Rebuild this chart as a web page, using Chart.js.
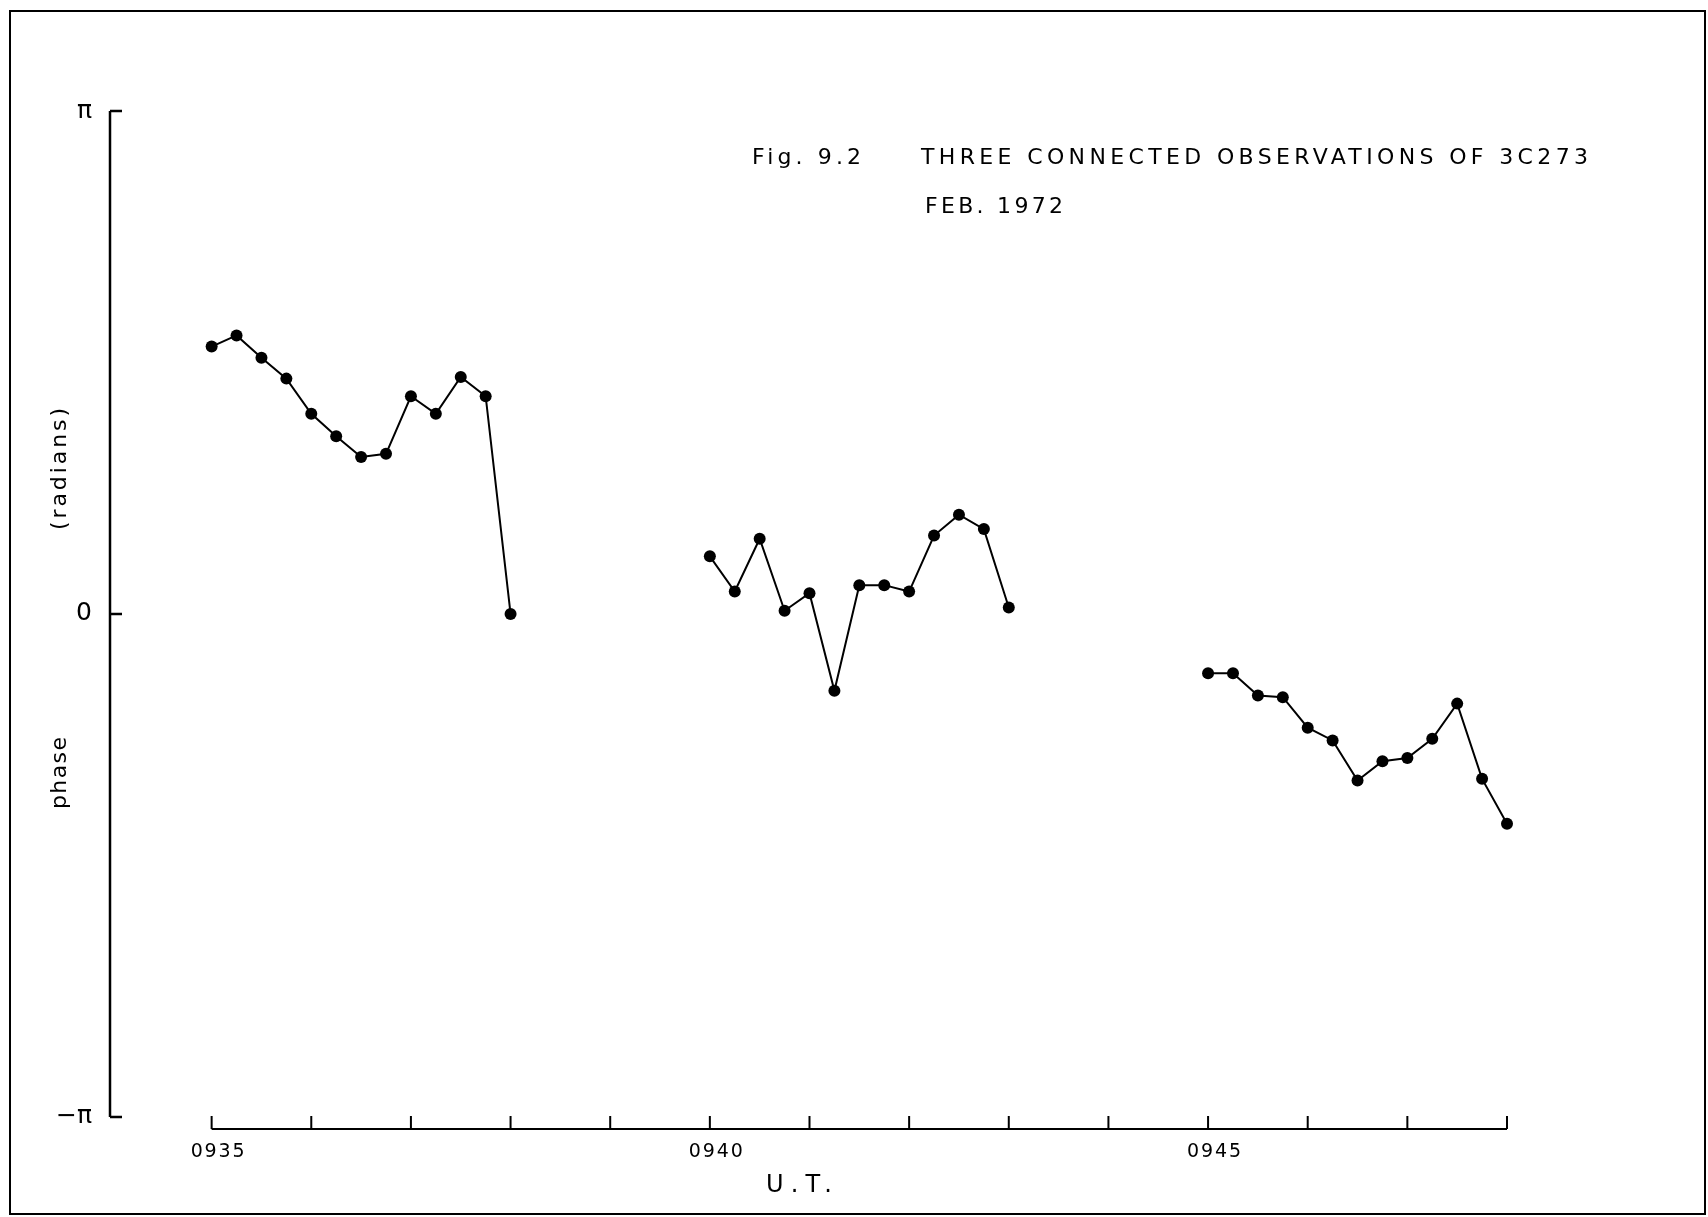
<!DOCTYPE html>
<html>
<head>
<meta charset="utf-8">
<title>Three connected observations of 3C273</title>
<script src="https://cdn.jsdelivr.net/npm/chart.js"></script>
<style>
  html, body { margin: 0; padding: 0; background: #fff; }
  #wrap { width: 1708px; height: 1217px; }
</style>
</head>
<body>
<div id="wrap"><canvas id="phaseChart" width="1708" height="1217"></canvas></div>
<script>
// U.T. given as minutes after 09:00, phase in radians
const obs1Time = [35, 35.25, 35.5, 35.75, 36, 36.25, 36.5, 36.75, 37, 37.25, 37.5, 37.75, 38];
const obs1Phase = [1.67, 1.74, 1.60, 1.47, 1.25, 1.11, 0.98, 1.00, 1.36, 1.25, 1.48, 1.36, 0.00];

const obs2Time = [40, 40.25, 40.5, 40.75, 41, 41.25, 41.5, 41.75, 42, 42.25, 42.5, 42.75, 43];
const obs2Phase = [0.36, 0.14, 0.47, 0.02, 0.13, -0.48, 0.18, 0.18, 0.14, 0.49, 0.62, 0.53, 0.04];

const obs3Time = [45, 45.25, 45.5, 45.75, 46, 46.25, 46.5, 46.75, 47, 47.25, 47.5, 47.75, 48];
const obs3Phase = [-0.37, -0.37, -0.51, -0.52, -0.71, -0.79, -1.04, -0.92, -0.90, -0.78, -0.56, -1.03, -1.31];

const xTicks = [35, 36, 37, 38, 39, 40, 41, 42, 43, 44, 45, 46, 47, 48];
const xLabelled = [35, 40, 45];
const xLabels = ['0935', '0940', '0945'];
const yTicks = [Math.PI, 0, -Math.PI];
const yLabels = ['π', '0', '−π'];

function toPoints(times, phases) {
    return times.map((t, i) => ({ x: t, y: phases[i] }));
}

// draw text spread out to a given width (hand lettering is wide)
function spreadText(ctx, text, x, y, width) {
    ctx.letterSpacing = '0px';
    const natural = ctx.measureText(text).width;
    const gap = text.length > 1 ? Math.max(0, (width - natural) / (text.length - 1)) : 0;
    ctx.letterSpacing = gap + 'px';
    ctx.fillText(text, x, y);
    ctx.letterSpacing = '0px';
}

const FONT = '"DejaVu Sans", sans-serif';

const paperPlugin = {
    id: 'paper',
    beforeDraw(chart) {
        const ctx = chart.ctx;
        ctx.save();
        ctx.fillStyle = '#fff';
        ctx.fillRect(0, 0, chart.width, chart.height);
        ctx.strokeStyle = '#000';
        ctx.lineWidth = 2;
        ctx.strokeRect(10, 11, 1695, 1203);
        ctx.restore();
    },
    afterDraw(chart) {
        const ctx = chart.ctx;
        const xs = chart.scales.x;
        const ys = chart.scales.y;
        const area = chart.chartArea;
        ctx.save();
        ctx.strokeStyle = '#000';
        ctx.fillStyle = '#000';
        ctx.lineWidth = 2.5;

        // y axis, ticks pointing in
        const x0 = area.left;
        ctx.beginPath();
        ctx.moveTo(x0, ys.getPixelForValue(Math.PI));
        ctx.lineTo(x0, ys.getPixelForValue(-Math.PI));
        yTicks.forEach(v => {
            const py = ys.getPixelForValue(v);
            ctx.moveTo(x0, py);
            ctx.lineTo(x0 + 12, py);
        });
        ctx.stroke();
        ctx.font = '25px ' + FONT;
        ctx.textAlign = 'right';
        ctx.textBaseline = 'middle';
        yTicks.forEach((v, i) => {
            ctx.fillText(yLabels[i], x0 - 18, ys.getPixelForValue(v));
        });

        // x axis, ticks pointing up
        const y0 = area.bottom;
        ctx.lineWidth = 2;
        ctx.beginPath();
        ctx.moveTo(xs.getPixelForValue(xTicks[0]), y0);
        ctx.lineTo(xs.getPixelForValue(xTicks[xTicks.length - 1]), y0);
        xTicks.forEach(v => {
            const px = xs.getPixelForValue(v);
            ctx.moveTo(px, y0);
            ctx.lineTo(px, y0 - 13);
        });
        ctx.stroke();
        ctx.font = '19px ' + FONT;
        ctx.textAlign = 'left';
        ctx.textBaseline = 'alphabetic';
        xLabelled.forEach((v, i) => {
            spreadText(ctx, xLabels[i], xs.getPixelForValue(v) - 21, y0 + 28, 54);
        });

        // axis titles
        ctx.font = '24px ' + FONT;
        spreadText(ctx, 'U.T.', 766, 1192, 66);

        ctx.font = '22px ' + FONT;
        ctx.save();
        ctx.translate(66, 0);
        ctx.rotate(-Math.PI / 2);
        ctx.textAlign = 'left';
        spreadText(ctx, 'phase', -809, 0, 72);
        spreadText(ctx, '(radians)', -530, 0, 122);
        ctx.restore();

        // figure caption
        ctx.font = '22px ' + FONT;
        ctx.textAlign = 'left';
        spreadText(ctx, 'Fig. 9.2', 752, 164, 109);
        spreadText(ctx, 'THREE CONNECTED OBSERVATIONS OF 3C273', 921, 164, 667);
        spreadText(ctx, 'FEB. 1972', 925, 213, 138);
        ctx.restore();
    }
};

const lineStyle = {
    borderColor: '#000',
    backgroundColor: '#000',
    borderWidth: 2,
    pointRadius: 6,
    pointHoverRadius: 6,
    pointBackgroundColor: '#000',
    pointBorderWidth: 0,
    tension: 0,
    clip: false
};

const ctx = document.getElementById('phaseChart').getContext('2d');
const phaseChart = new Chart(ctx, {
    type: 'line',
    data: {
        datasets: [
            Object.assign({ label: 'Observation 1', data: toPoints(obs1Time, obs1Phase) }, lineStyle),
            Object.assign({ label: 'Observation 2', data: toPoints(obs2Time, obs2Phase) }, lineStyle),
            Object.assign({ label: 'Observation 3', data: toPoints(obs3Time, obs3Phase) }, lineStyle)
        ]
    },
    options: {
        responsive: false,
        animation: false,
        devicePixelRatio: 1,
        layout: { padding: { left: 110, right: 201, top: 111, bottom: 88 } },
        plugins: {
            legend: { display: false },
            tooltip: { enabled: false },
            title: { display: false }
        },
        scales: {
            x: { type: 'linear', min: 33.98, max: 48, display: false },
            y: { type: 'linear', min: -3.217, max: Math.PI, display: false }
        }
    },
    plugins: [paperPlugin]
});
</script>
</body>
</html>
